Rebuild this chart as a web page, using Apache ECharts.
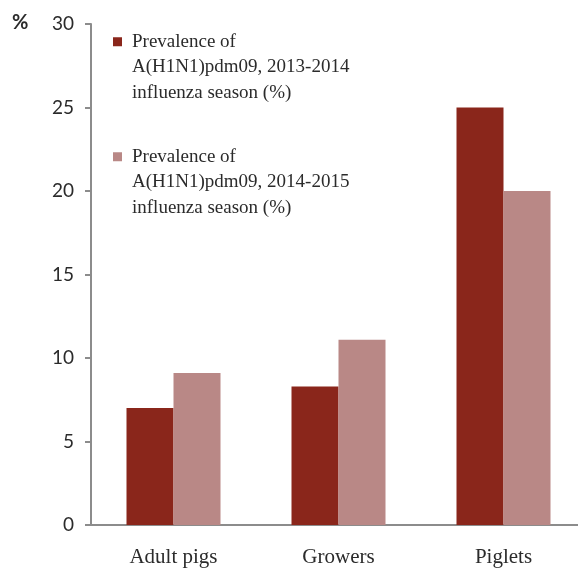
<!DOCTYPE html>
<html>
<head>
<meta charset="utf-8">
<script src="https://cdn.jsdelivr.net/npm/echarts@6/dist/echarts.min.js"></script>
<style>
  html, body { margin: 0; padding: 0; background: #fff; }
  #chart { width: 578px; height: 570px; }
</style>
</head>
<body>
<div id="chart"></div>
<script>
// data
var categories = ['Adult pigs', 'Growers', 'Piglets'];
var season1314 = [7.0, 8.3, 25.0];
var season1415 = [9.1, 11.1, 20.0];
var yTicks = [0, 5, 10, 15, 20, 25, 30];
var names = [
    ['Prevalence of', 'A(H1N1)pdm09, 2013-2014', 'influenza season (%)'],
    ['Prevalence of', 'A(H1N1)pdm09, 2014-2015', 'influenza season (%)']
];
var colors = ['#8a261b', '#b98886'];

var serif = '"Liberation Serif", "DejaVu Serif", serif';
var sans = '"Lato", sans-serif';
var axisGray = '#8c8c8c';
var textColor = '#2b2b2b';

var chart = echarts.init(document.getElementById('chart'));

// swatch drawn as rich text so it sits beside the first line only
function legendText(idx) {
    var l = names[idx];
    return '{sq' + idx + '|}{g|}{t|' + l[0] + '}\n{sp|}{t|' + l[1] + '}\n{sp|}{t|' + l[2] + '}';
}

var rich = {
    sq0: { width: 9, height: 9, backgroundColor: colors[0] },
    sq1: { width: 9, height: 9, backgroundColor: colors[1] },
    g: { width: 10 },
    sp: { width: 19 },
    t: { fontFamily: serif, fontSize: 19, color: textColor, lineHeight: 25.5 }
};

var option = {
    backgroundColor: '#fff',
    animation: false,
    title: {
        text: '%',
        left: 7,
        top: 8,
        textStyle: { fontFamily: sans, fontSize: 20, fontWeight: 'bold', color: textColor }
    },
    legend: {
        data: [names[0].join('\n'), names[1].join('\n')],
        orient: 'vertical',
        left: 103,
        top: 24,
        itemGap: 38.5,
        itemWidth: 0,
        itemHeight: 0,
        icon: 'none',
        selectedMode: false,
        formatter: function (name) {
            return legendText(name === names[0].join('\n') ? 0 : 1);
        },
        textStyle: { lineHeight: 25.5, rich: rich }
    },
    grid: { left: 91, top: 24, width: 495, bottom: 45, outerBoundsMode: 'none' },
    xAxis: {
        type: 'category',
        data: categories,
        axisLine: { lineStyle: { color: axisGray, width: 2 } },
        axisTick: { length: 6, lineStyle: { color: axisGray, width: 2 } },
        axisLabel: { fontFamily: serif, fontSize: 21, color: textColor, margin: 22 }
    },
    yAxis: {
        type: 'value',
        min: 0,
        max: 30,
        interval: 5,
        axisLine: { show: true, lineStyle: { color: axisGray, width: 2 } },
        axisTick: { show: true, length: 6, lineStyle: { color: axisGray, width: 2 } },
        splitLine: { show: false },
        axisLabel: {
            fontFamily: sans,
            fontSize: 19,
            color: textColor,
            margin: 17,
            formatter: function (v) { return yTicks.indexOf(v) >= 0 ? String(v) : ''; }
        }
    },
    series: [
        {
            name: names[0].join('\n'),
            type: 'bar',
            data: season1314,
            barWidth: 47,
            barGap: '0%',
            itemStyle: { color: colors[0] }
        },
        {
            name: names[1].join('\n'),
            type: 'bar',
            data: season1415,
            barWidth: 47,
            barGap: '0%',
            itemStyle: { color: colors[1] }
        }
    ]
};

chart.setOption(option);
</script>
</body>
</html>
